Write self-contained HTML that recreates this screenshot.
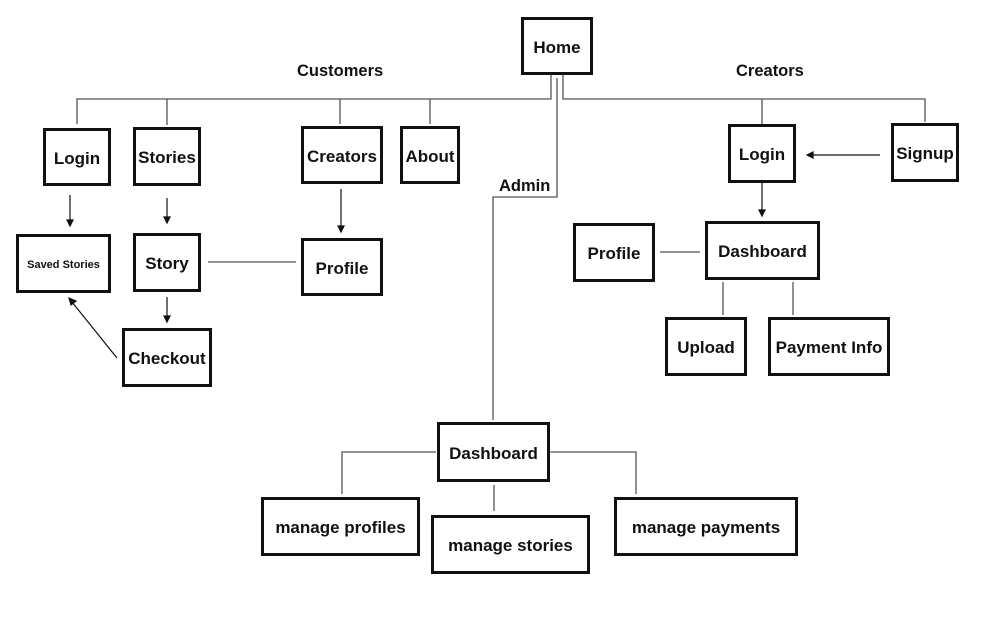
<!DOCTYPE html>
<html><head><meta charset="utf-8"><style>
body{margin:0;background:#fff;width:1000px;height:619px;overflow:hidden;position:relative;font-family:"Liberation Sans",Arial,sans-serif;}
.b{position:absolute;border:3px solid #111;box-sizing:border-box;display:flex;align-items:center;justify-content:center;font-weight:bold;font-size:17px;color:#111;background:#fff;padding-top:3px;}
.t{position:absolute;font-weight:bold;font-size:16.5px;color:#111;}
svg{position:absolute;left:0;top:0}
</style></head><body>
<svg width="1000" height="619">
<g stroke="#555" stroke-width="1.3" fill="none">
<polyline points="551,74 551,99 77,99 77,124"/>
<line x1="167" y1="99" x2="167" y2="125"/>
<line x1="340" y1="99" x2="340" y2="124"/>
<line x1="430" y1="99" x2="430" y2="124"/>
<polyline points="557,78 557,197 493,197 493,420"/>
<polyline points="563,74 563,99 925,99 925,122"/>
<line x1="762" y1="99" x2="762" y2="124"/>
<line x1="208" y1="262" x2="296" y2="262"/>
<line x1="660" y1="252" x2="700" y2="252"/>
<line x1="723" y1="282" x2="723" y2="315"/>
<line x1="793" y1="282" x2="793" y2="315"/>
<polyline points="436,452 342,452 342,494"/>
<polyline points="550,452 636,452 636,494"/>
<line x1="494" y1="485" x2="494" y2="511"/>
</g>
<g stroke="#111" stroke-width="1.2" fill="#111">
<line x1="70" y1="195" x2="70" y2="222"/><polygon points="67,220 73,220 70,226"/>
<line x1="167" y1="198" x2="167" y2="219"/><polygon points="164,217 170,217 167,223"/>
<line x1="341" y1="189" x2="341" y2="228"/><polygon points="338,226 344,226 341,232"/>
<line x1="167" y1="297" x2="167" y2="318"/><polygon points="164,316 170,316 167,322"/>
<line x1="117" y1="358" x2="72" y2="302"/><polygon points="69,298 76,301 71,305"/>
<line x1="880" y1="155" x2="812" y2="155"/><polygon points="807,155 813,152 813,158"/>
<line x1="762" y1="183" x2="762" y2="211"/><polygon points="759,210 765,210 762,216"/>
</g>
</svg>
<div class="t" style="left:297px;top:62px">Customers</div>
<div class="t" style="left:736px;top:62px">Creators</div>
<div class="t" style="left:499px;top:177px">Admin</div>
<div class="b" style="left:521px;top:17px;width:72px;height:58px">Home</div>
<div class="b" style="left:43px;top:128px;width:68px;height:58px">Login</div>
<div class="b" style="left:133px;top:127px;width:68px;height:59px">Stories</div>
<div class="b" style="left:301px;top:126px;width:82px;height:58px">Creators</div>
<div class="b" style="left:400px;top:126px;width:60px;height:58px">About</div>
<div class="b" style="left:16px;top:234px;width:95px;height:59px;font-size:11px">Saved Stories</div>
<div class="b" style="left:133px;top:233px;width:68px;height:59px">Story</div>
<div class="b" style="left:301px;top:238px;width:82px;height:58px">Profile</div>
<div class="b" style="left:122px;top:328px;width:90px;height:59px">Checkout</div>
<div class="b" style="left:728px;top:124px;width:68px;height:59px">Login</div>
<div class="b" style="left:891px;top:123px;width:68px;height:59px">Signup</div>
<div class="b" style="left:573px;top:223px;width:82px;height:59px">Profile</div>
<div class="b" style="left:705px;top:221px;width:115px;height:59px">Dashboard</div>
<div class="b" style="left:665px;top:317px;width:82px;height:59px">Upload</div>
<div class="b" style="left:768px;top:317px;width:122px;height:59px">Payment Info</div>
<div class="b" style="left:437px;top:422px;width:113px;height:60px">Dashboard</div>
<div class="b" style="left:261px;top:497px;width:159px;height:59px">manage profiles</div>
<div class="b" style="left:431px;top:515px;width:159px;height:59px">manage stories</div>
<div class="b" style="left:614px;top:497px;width:184px;height:59px">manage payments</div>
</body></html>
